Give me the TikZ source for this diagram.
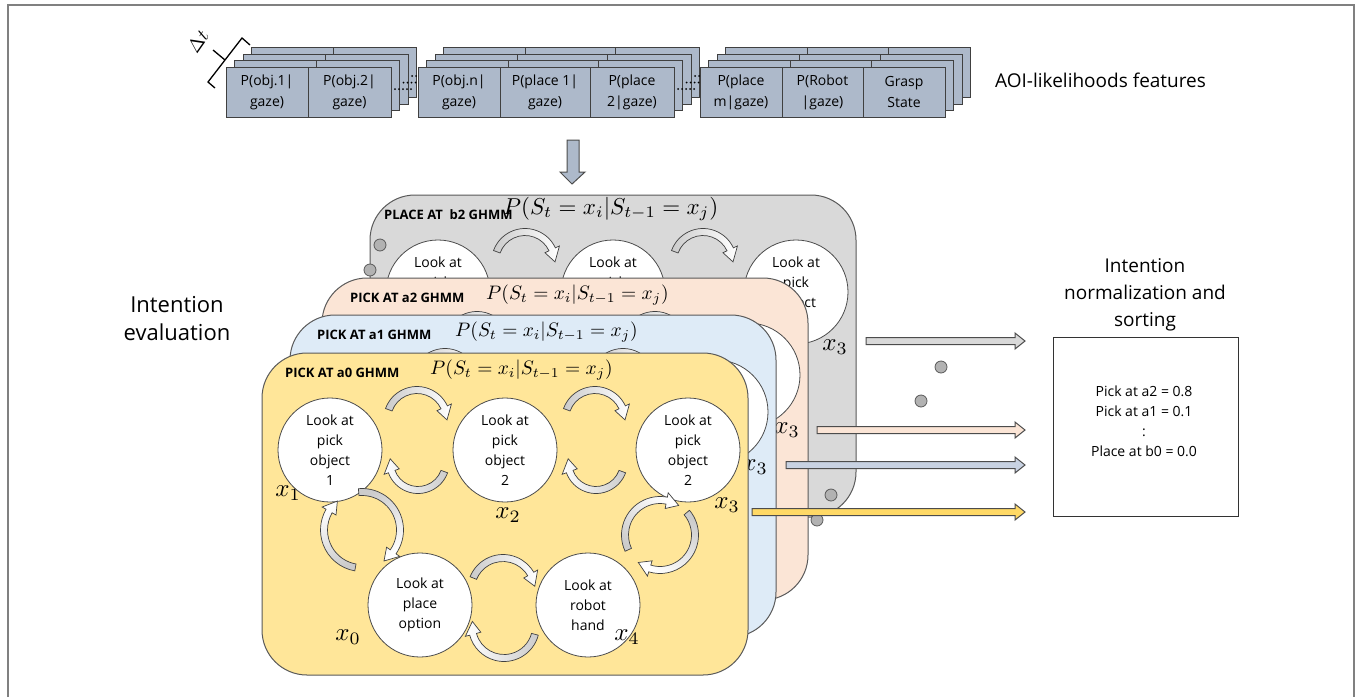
\documentclass[tikz,border=0pt]{standalone}
\usepackage{graphicx}
\usepackage{fontspec}
\setsansfont{Open Sans}
\usetikzlibrary{calc}
\definecolor{fboxc}{RGB}{173,185,202}
\definecolor{pgray}{RGB}{217,217,217}
\definecolor{ppeach}{RGB}{251,229,214}
\definecolor{pblue}{RGB}{222,235,247}
\definecolor{pyell}{RGB}{255,230,153}
\definecolor{ablue}{RGB}{200,210,226}
\definecolor{ayell}{RGB}{255,217,102}

\newcommand\carr[5]{%
 \pgfmathsetmacro\cAsg{(#5>#4)*2-1}%
 \pgfmathsetmacro\cAtip{#5+\cAsg*13/#3*57.3}%
 \pgfmathsetmacro\cAsh{atan2(sin(#4)-sin(#5),cos(#4)-cos(#5))-90}%
 \pgfmathsetmacro\cAro{#3+3.5}%
 \pgfmathsetmacro\cAri{#3-3.5}%
 \pgfmathsetmacro\cAho{#3+8}%
 \pgfmathsetmacro\cAhi{#3-8}%
 \begin{scope}[shift={(#1,#2)}]
 \path[carrow, shading angle=\cAsh] (#4:\cAro) arc[start angle=#4, end angle=#5, radius=\cAro] -- (#5:\cAho) -- (\cAtip:#3) -- (#5:\cAhi) -- (#5:\cAri) arc[start angle=#5, end angle=#4, radius=\cAri] -- cycle;
 \end{scope}}

\newcommand\mth[2]{\scalebox{#1}{$#2$}}

% #1 dx, #2 dy, #3 fill, #4 prefix, #5 title, #6 math x, #7 math scale, #8 title x, #9 math y
\newcommand\ghmm[9]{%
\begin{scope}[shift={(#1,#2)}]
\draw[panel, fill=#3] (262,-353) rectangle (748,-675);
\node[st] (#4a) at (330,-450) {Look at\\pick\\object\\1};
\node[st] (#4b) at (505,-450) {Look at\\pick\\object\\2};
\node[st] (#4c) at (688,-450) {Look at\\pick\\object\\2};
\node[st] (#4d) at (420,-605) {Look at\\place\\option};
\node[st] (#4e) at (588,-605) {Look at\\robot\\hand};
\carr{417}{-420}{30}{160}{25}
\carr{418}{-462}{28}{-20}{-160}
\carr{595}{-420}{30}{160}{25}
\carr{596}{-462}{28}{-20}{-160}
\carr{362}{-530}{38}{95}{-35}
\carr{362}{-530}{38}{-100}{-210}
\carr{660}{-535}{35}{205}{79}
\carr{660}{-535}{35}{40}{-107}
\carr{503}{-590}{32}{158}{30}
\carr{504}{-626}{32}{-15}{-165}
\node[xl] (#4l1) at (288,-493) {\mth{2.5}{x_1}};
\node[xl] (#4l2) at (508,-515) {\mth{2.5}{x_2}};
\node[xl] (#4l3) at (727,-505) {\mth{2.5}{x_3}};
\node[xl] (#4l0) at (348,-637) {\mth{2.5}{x_0}};
\node[xl] (#4l4) at (627,-637) {\mth{2.5}{x_4}};
\node[ttl, anchor=west] (#4t) at (#8,-373) {#5};
\node[anchor=west, inner sep=0pt] (#4m) at (#6,#9) {\mth{#7}{P(S_t = x_i|S_{t-1} = x_j)}};
\end{scope}}

\newcommand\flayer[1]{%
\begin{scope}[shift={({8.5*#1},{6.5*#1})}]
 \foreach \a/\b in {226/308,308/391,418/500,500/590,590/674,700/782,782/863,863/945}
   \draw[fbx] (\a,-67) rectangle (\b,-117);
 \draw[fdots] (395,-89) -- (414,-89);
 \draw[fdots] (678,-89) -- (697,-89);
\end{scope}}

\newcommand\harr[3]{%
 \path[harrow, fill=#3] let \p1=(#1), \p2=(#2) in
 (\x1,\y1+3.5) -- (\x2-10,\y1+3.5) -- (\x2-10,\y1+8) -- (\x2,\y1) -- (\x2-10,\y1-8) -- (\x2-10,\y1-3.5) -- (\x1,\y1-3.5) -- cycle;}

\begin{document}
\begin{tikzpicture}[x=1pt,y=1pt,
 fbx/.style={draw=black!75, fill=fboxc, line width=1pt},
 ftxt/.style={font=\sffamily\fontsize{14}{21}\selectfont, align=center, inner sep=0pt},
 fdots/.style={line width=2pt, dash pattern=on 0pt off 4pt, line cap=round},
 panel/.style={draw=black!65, line width=1pt, rounded corners=45pt},
 st/.style={circle, draw=black!70, fill=white, line width=0.8pt, minimum size=104pt, inner sep=0pt, align=center, font=\sffamily\fontsize{14}{20}\selectfont},
 ttl/.style={font=\sffamily\bfseries\fontsize{13}{13}\selectfont, inner sep=0pt},
 xl/.style={inner sep=0pt},
 carrow/.style={draw=black!75, line width=0.7pt, top color=gray!40, bottom color=white},
 harrow/.style={draw=black!70, line width=1pt},
 gdot/.style={circle, draw=black!65, fill=gray!60, minimum size=12pt, inner sep=0pt, line width=0.8pt},
 frame/.style={draw=black!50, line width=1.2pt}]
\useasboundingbox (0,0) rectangle (1360,-697);
\fill[white] (0,0) rectangle (1360,-697);
\draw[frame] (8,-697) -- (8,-5) -- (1354,-5) -- (1354,-697);

% feature stacks
\flayer{3}\flayer{2}\flayer{1}
\draw[fdots] (395,-89) -- (414,-89);
\draw[fdots] (678,-89) -- (697,-89);
\node[fbx, ftxt, minimum width=82pt, minimum height=50pt] (f1) at (267,-92) {P(obj.1|\\gaze)};
\node[fbx, ftxt, minimum width=83pt, minimum height=50pt] (f2) at (349.5,-92) {P(obj.2|\\gaze)};
\node[fbx, ftxt, minimum width=82pt, minimum height=50pt] (f3) at (459,-92) {P(obj.n|\\gaze)};
\node[fbx, ftxt, minimum width=90pt, minimum height=50pt] (f4) at (545,-92) {P(place 1|\\gaze)};
\node[fbx, ftxt, minimum width=84pt, minimum height=50pt] (f5) at (632,-92) {P(place\\2|gaze)};
\node[fbx, ftxt, minimum width=82pt, minimum height=50pt] (f6) at (741,-92) {P(place\\m|gaze)};
\node[fbx, ftxt, minimum width=81pt, minimum height=50pt] (f7) at (822.5,-92) {P(Robot\\|gaze)};
\node[fbx, ftxt, minimum width=82pt, minimum height=50pt] (f8) at (904,-92) {Grasp\\State};

% delta t bracket
\draw[line width=1.3pt] (215,-88) -- (208,-82) -- (242,-38) -- (250,-45);
\draw[line width=1.3pt] (225,-60) -- (213,-50);
\node[rotate=55, inner sep=0pt] (dt) at (198,-41) {\mth{1.9}{\Delta t}};

\node[font=\sffamily\fontsize{19}{19}\selectfont, anchor=west, inner sep=0pt] (aoi) at (995,-80) {AOI-likelihoods features};

% down arrow
\draw[harrow, fill=fboxc] (567,-140) -- (579,-140) -- (579,-172) -- (585,-172) -- (572,-184) -- (560,-172) -- (567,-172) -- cycle;

% panels
\ghmm{108}{158}{pgray}{g}{PLACE AT~ b2 GHMM}{395}{2.3}{276}{-367}
\ghmm{60}{75}{ppeach}{p}{PICK AT a2 GHMM}{426}{1.95}{290}{-370}
\ghmm{28}{38}{pblue}{b}{PICK AT a1 GHMM}{427}{1.95}{289}{-370}
\ghmm{0}{0}{pyell}{y}{PICK AT a0 GHMM}{430}{1.95}{285}{-370}

\node[align=center, font=\sffamily\fontsize{22}{28}\selectfont] (ie) at (177,-319) {Intention\\evaluation};
\node[align=center, font=\sffamily\fontsize{19}{27}\selectfont] (inorm) at (1145,-295) {Intention\\normalization and\\sorting};

% dots
\node[gdot] (d1) at (380,-245) {};
\node[gdot] (d2) at (370,-270) {};
\node[gdot] (d3) at (831,-495) {};
\node[gdot] (d4) at (817,-520) {};
\node[gdot] (d5) at (941,-367) {};
\node[gdot] (d6) at (921,-401) {};

% result box
\node[draw=black!80, line width=1pt, minimum width=185pt, minimum height=179pt] (res) at (1145.5,-426.5) {};
\node[align=center, font=\sffamily\fontsize{14}{20}\selectfont] (restxt) at (1144,-421) {Pick at a2 = 0.8\\Pick at a1 = 0.1\\:\\Place at b0 = 0.0};

% horizontal arrows
\coordinate (gs) at (866,-341); \coordinate (ge) at (1025,-341);
\coordinate (ps) at (817,-430); \coordinate (pe) at (1025,-430);
\coordinate (bs) at (786,-465); \coordinate (be) at (1025,-465);
\coordinate (ys) at (752,-512); \coordinate (ye) at (1025,-512);
\harr{gs}{ge}{pgray}
\harr{ps}{pe}{ppeach}
\harr{bs}{be}{ablue}
\harr{ys}{ye}{ayell}
\end{tikzpicture}
\end{document}
